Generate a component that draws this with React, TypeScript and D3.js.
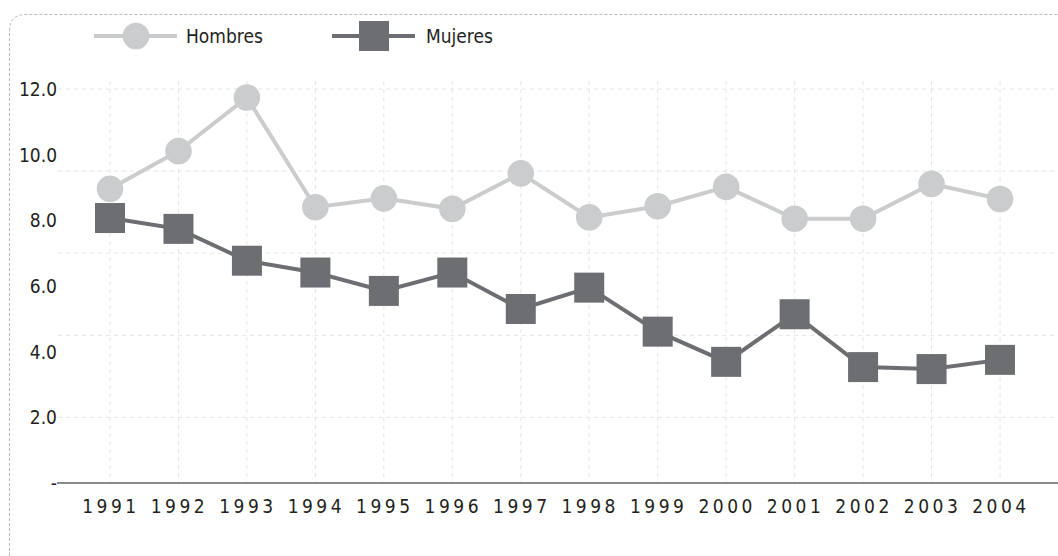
import React from "react";
import * as d3 from "d3";

const years = ["1991","1992","1993","1994","1995","1996","1997","1998","1999","2000","2001","2002","2003","2004"];
const hombres = [8.96, 10.11, 11.74, 8.40, 8.67, 8.35, 9.43, 8.09, 8.43, 9.02, 8.05, 8.05, 9.11, 8.65];
const mujeres = [8.07, 7.74, 6.77, 6.41, 5.85, 6.41, 5.30, 5.95, 4.61, 3.69, 5.14, 3.53, 3.47, 3.75];
const yTickValues = [0, 2, 4, 6, 8, 10, 12];
const yTickLabels = ["-", "2.0", "4.0", "6.0", "8.0", "10.0", "12.0"];
const gridValues = [2, 4.5, 7, 9.5, 12];
const seriesNames = ["Hombres", "Mujeres"];

const W = 1058, H = 556;
const FONT = "'DejaVu Sans Condensed', 'DejaVu Sans', sans-serif";
const C_H = "#cbcccd";
const C_M = "#6d6e72";
const TXT = "#231f20";

export default function App() {
  const x = d3.scalePoint<string>().domain(years).range([110, 1000]);
  const y = d3.scaleLinear().domain([0, 12]).range([483, 89]);
  const line = d3.line<number>().x((_, i) => x(years[i]) as number).y((d) => y(d));

  const borderPath = `M9.5,${H + 5} L9.5,31 Q9.5,14.5 26,14.5 L${W + 5},14.5`;

  return (
    <svg width={W} height={H} style={{ position: "absolute", left: 0, top: 0, background: "#fff" }} fontFamily={FONT}>
      <path d={borderPath} fill="none" stroke="#bcbcbc" strokeWidth={1} strokeDasharray="3,2" />
      {/* grid */}
      {years.map((yr) => (
        <line key={"v" + yr} x1={x(yr)} x2={x(yr)} y1={81} y2={483} stroke="#e4e4e4" strokeWidth={1} strokeDasharray="4,4" />
      ))}
      {gridValues.map((g) => (
        <line key={"h" + g} x1={58} x2={W} y1={y(g)} y2={y(g)} stroke="#e4e4e4" strokeWidth={1} strokeDasharray="4,4" />
      ))}
      {/* axis */}
      <line x1={57} x2={W} y1={y(0)} y2={y(0)} stroke="#8a8a8a" strokeWidth={2} />
      {yTickValues.map((v, i) => (
        <text key={"yt" + v} x={57} y={y(v)} textAnchor="end" dominantBaseline="central" fontSize={19} fill={TXT} fontStretch="condensed">
          {yTickLabels[i]}
        </text>
      ))}
      {years.map((yr) => (
        <text key={"xt" + yr} x={(x(yr) as number) + 1} y={506} textAnchor="middle" dominantBaseline="central" fontSize={19} fill={TXT} letterSpacing={3.5} fontStretch="condensed">
          {yr}
        </text>
      ))}
      {/* lines */}
      <path d={line(hombres) || ""} fill="none" stroke={C_H} strokeWidth={4} />
      <path d={line(mujeres) || ""} fill="none" stroke={C_M} strokeWidth={4} />
      {hombres.map((v, i) => (
        <circle key={"c" + i} cx={x(years[i])} cy={y(v)} r={13.3} fill={C_H} />
      ))}
      {mujeres.map((v, i) => (
        <rect key={"s" + i} x={(x(years[i]) as number) - 15} y={y(v) - 15} width={30} height={30} fill={C_M} />
      ))}
      {/* legend */}
      <g>
        <line x1={94} x2={177} y1={36} y2={36} stroke={C_H} strokeWidth={4} />
        <circle cx={136} cy={36} r={13.3} fill={C_H} />
        <text x={186} y={36} dominantBaseline="central" fontSize={19} fill={TXT} fontStretch="condensed">{seriesNames[0]}</text>
        <line x1={332} x2={415} y1={36} y2={36} stroke={C_M} strokeWidth={4} />
        <rect x={359} y={21} width={30} height={30} fill={C_M} />
        <text x={426} y={36} dominantBaseline="central" fontSize={19} fill={TXT} fontStretch="condensed">{seriesNames[1]}</text>
      </g>
    </svg>
  );
}
